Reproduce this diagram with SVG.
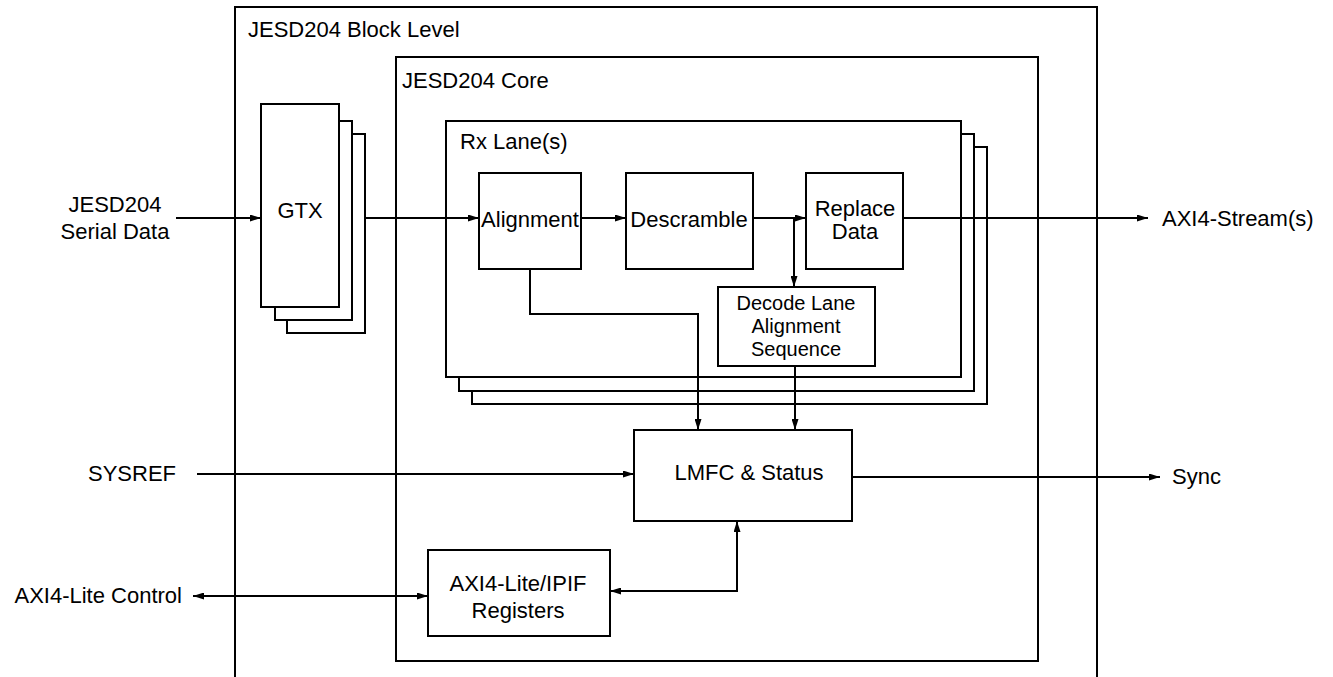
<svg xmlns="http://www.w3.org/2000/svg" width="1333" height="677" viewBox="0 0 1333 677">
<style>
.box{fill:#fff;stroke:#000;stroke-width:2}
.frame{fill:none;stroke:#000;stroke-width:2}
.t{font-family:"Liberation Sans",Arial,sans-serif;font-size:22px;fill:#000}
.s{font-size:20px}
.m{text-anchor:middle}
.e{text-anchor:end}
.c{fill:none;stroke:#000;stroke-width:2}
</style>
<defs>
<marker id="ah" markerUnits="userSpaceOnUse" markerWidth="11" markerHeight="7" refX="11" refY="3.5" orient="auto">
<path d="M0,0 L11,3.5 L0,7 z" fill="#000"/>
</marker>
<marker id="ahs" markerUnits="userSpaceOnUse" markerWidth="11" markerHeight="7" refX="0" refY="3.5" orient="auto">
<path d="M11,0 L0,3.5 L11,7 z" fill="#000"/>
</marker>
</defs>
<rect width="1333" height="677" fill="#fff"/>
<g id="block-level">
<path class="frame" d="M235,680 L235,7 L1097,7 L1097,680"/>
<text class="t" x="248" y="37">JESD204 Block Level</text>
</g>
<g id="core">
<rect class="frame" x="396" y="57" width="642" height="604"/>
<text class="t" x="402" y="88">JESD204 Core</text>
</g>
<g id="gtx">
<rect class="box" x="287" y="134" width="78" height="199"/>
<rect class="box" x="275" y="121" width="77" height="199"/>
<rect class="box" x="261" y="104" width="78" height="203"/>
<text class="t m" x="300" y="218">GTX</text>
</g>
<g id="rx-lanes">
<rect class="box" x="472" y="147" width="515" height="257"/>
<rect class="box" x="459" y="134" width="515" height="257"/>
<rect class="box" x="446" y="121" width="515" height="256"/>
<text class="t" x="460" y="149">Rx Lane(s)</text>
</g>
<g id="alignment">
<rect class="box" x="479" y="173" width="102" height="96"/>
<text class="t m" x="530" y="227">Alignment</text>
</g>
<g id="descramble">
<rect class="box" x="626" y="173" width="127" height="96"/>
<text class="t m" x="689" y="227">Descramble</text>
</g>
<g id="replace-data">
<rect class="box" x="806" y="173" width="97" height="96"/>
<text class="t m" x="855" y="216">Replace</text>
<text class="t m" x="855" y="239">Data</text>
</g>
<g id="decode-lane">
<rect class="box" x="718" y="287" width="157" height="79"/>
<text class="t s m" x="796" y="310">Decode Lane</text>
<text class="t s m" x="796" y="333">Alignment</text>
<text class="t s m" x="796" y="356">Sequence</text>
</g>
<g id="lmfc">
<rect class="box" x="634" y="430" width="218" height="91"/>
<text class="t m" x="749" y="480">LMFC &amp; Status</text>
</g>
<g id="axi-regs">
<rect class="box" x="428" y="550" width="182" height="86"/>
<text class="t m" x="518" y="591">AXI4-Lite/IPIF</text>
<text class="t m" x="518" y="618">Registers</text>
</g>
<g id="labels">
<text class="t m" x="115" y="212">JESD204</text>
<text class="t m" x="115" y="239">Serial Data</text>
<text class="t e" x="176" y="481">SYSREF</text>
<text class="t e" x="182" y="603">AXI4-Lite Control</text>
<text class="t" x="1162" y="226">AXI4-Stream(s)</text>
<text class="t" x="1172" y="484">Sync</text>
</g>
<g id="connectors">
<path class="c" d="M176,218 L261,218" marker-end="url(#ah)"/>
<path class="c" d="M365,218 L479,218" marker-end="url(#ah)"/>
<path class="c" d="M581,218 L626,218" marker-end="url(#ah)"/>
<path class="c" d="M753,218 L806,218" marker-end="url(#ah)"/>
<path class="c" d="M794,218 L794,287" marker-end="url(#ah)"/>
<path class="c" d="M903,218 L1148,218" marker-end="url(#ah)"/>
<path class="c" d="M530,269 L530,314 L698,314 L698,430" marker-end="url(#ah)"/>
<path class="c" d="M795,366 L795,430" marker-end="url(#ah)"/>
<path class="c" d="M197,474 L634,474" marker-end="url(#ah)"/>
<path class="c" d="M852,477 L1160,477" marker-end="url(#ah)"/>
<path class="c" d="M193,596 L428,596" marker-start="url(#ahs)" marker-end="url(#ah)"/>
<path class="c" d="M610,591 L737,591 L737,521" marker-start="url(#ahs)" marker-end="url(#ah)"/>
</g>
</svg>
